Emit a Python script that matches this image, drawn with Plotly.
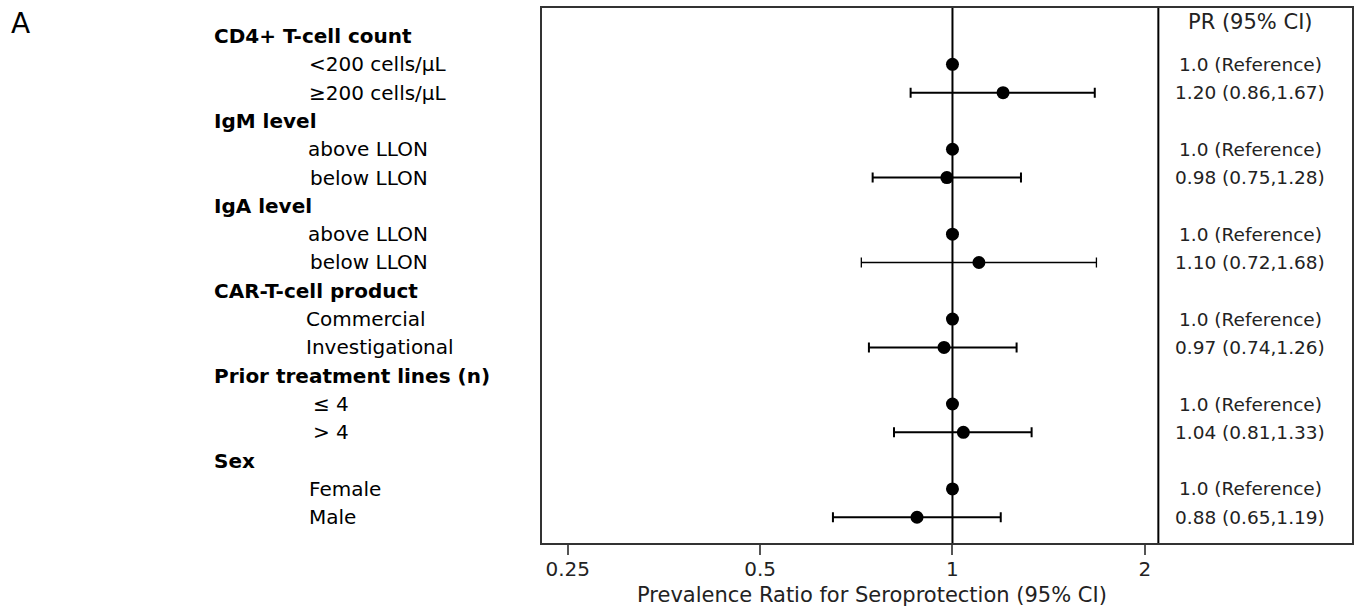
import math
import plotly.graph_objects as go

# ---- data ----
labels = ["CD4+ T-cell count", "<200 cells/μL", "≥200 cells/μL",
          "IgM level", "above LLON", "below LLON",
          "IgA level", "above LLON", "below LLON",
          "CAR-T-cell product", "Commercial", "Investigational",
          "Prior treatment lines (n)", "≤ 4", "> 4",
          "Sex", "Female", "Male"]
is_header = [True, False, False, True, False, False, True, False, False,
             True, False, False, True, False, False, True, False, False]
pr = [None, 1.0, 1.20, None, 1.0, 0.98, None, 1.0, 1.10,
      None, 1.0, 0.97, None, 1.0, 1.04, None, 1.0, 0.88]
ci_low = [None, None, 0.86, None, None, 0.75, None, None, 0.72,
          None, None, 0.74, None, None, 0.81, None, None, 0.65]
ci_high = [None, None, 1.67, None, None, 1.28, None, None, 1.68,
           None, None, 1.26, None, None, 1.33, None, None, 1.19]
pr_text = [None, "1.0 (Reference)", "1.20 (0.86,1.67)", None, "1.0 (Reference)", "0.98 (0.75,1.28)",
           None, "1.0 (Reference)", "1.10 (0.72,1.68)", None, "1.0 (Reference)", "0.97 (0.74,1.26)",
           None, "1.0 (Reference)", "1.04 (0.81,1.33)", None, "1.0 (Reference)", "0.88 (0.65,1.19)"]
tick_vals = [0.25, 0.5, 1, 2]
tick_text = ["0.25", "0.5", "1", "2"]
x_title = "Prevalence Ratio for Seroprotection (95% CI)"
col_title = "PR (95% CI)"
panel_label = "A"

FONT = "DejaVu Sans"
x_lo, x_hi = 0.2278, 4.22
divider = 2.10
y_top, y_bot = -0.99, 17.91

fig = go.Figure()

# reference line at 1
fig.add_trace(go.Scatter(x=[1, 1], y=[y_top, y_bot], mode="lines",
                         line=dict(color="black", width=2), hoverinfo="skip", showlegend=False))
# divider line
fig.add_trace(go.Scatter(x=[divider, divider], y=[y_top, y_bot], mode="lines",
                         line=dict(color="black", width=2), hoverinfo="skip", showlegend=False))

rows = list(range(len(labels)))
for i in rows:
    if pr[i] is None:
        continue
    err = None
    if ci_low[i] is not None:
        err = dict(type="data", symmetric=False,
                   array=[ci_high[i] - pr[i]], arrayminus=[pr[i] - ci_low[i]],
                   color="black", thickness=1.3 if i == 8 else 2, width=5)
    fig.add_trace(go.Scatter(x=[pr[i]], y=[i], mode="markers",
                             marker=dict(color="black", size=13),
                             error_x=err, showlegend=False))

indent = {1: 310, 2: 310, 4: 309, 5: 311, 7: 309, 8: 311, 10: 307, 11: 307,
          13: 314, 14: 314, 16: 310, 17: 310}
plot_l, plot_r = 542, 1353
plot_t, plot_b = 6, 543
pw = plot_r - plot_l
ph = plot_b - plot_t
PAD = 3
for i in rows:
    if is_header[i]:
        xpx = 215
        txt = "<b>%s</b>" % labels[i]
    else:
        xpx = indent[i]
        txt = labels[i]
    fig.add_annotation(x=(xpx - PAD - plot_l) / pw, xref="paper", y=i, yref="y",
                       text=txt, showarrow=False, xanchor="left", yanchor="middle",
                       font=dict(family=FONT, size=20, color="black"))

xc = (1251 - plot_l) / pw
fig.add_annotation(x=xc, xref="paper", y=-0.5, yref="y", text=col_title,
                   showarrow=False, xanchor="center", yanchor="middle",
                   font=dict(family=FONT, size=21, color="#222"))
for i in rows:
    if pr_text[i]:
        fig.add_annotation(x=xc, xref="paper", y=i, yref="y", text=pr_text[i],
                           showarrow=False, xanchor="center", yanchor="middle",
                           font=dict(family=FONT, size=18.5, color="#222"))

fig.add_annotation(x=(8 - plot_l) / pw, xref="paper", y=(plot_b - 22) / ph, yref="paper",
                   text=panel_label, showarrow=False, xanchor="left", yanchor="middle",
                   font=dict(family=FONT, size=28, color="black"))

fig.add_annotation(x=(872 - plot_l) / pw, xref="paper", y=(plot_b - 595) / ph, yref="paper",
                   text=x_title, showarrow=False, xanchor="center", yanchor="middle",
                   font=dict(family=FONT, size=21, color="#222"))

fig.update_layout(
    width=1360, height=607,
    margin=dict(l=plot_l, r=1360 - plot_r, t=plot_t, b=607 - plot_b),
    paper_bgcolor="white", plot_bgcolor="white",
    xaxis=dict(type="log", range=[math.log10(x_lo), math.log10(x_hi)],
               tickvals=tick_vals, ticktext=tick_text, ticks="outside",
               ticklen=10, tickwidth=1.5, tickcolor="#555", ticklabelstandoff=-3,
               showgrid=False, zeroline=False, showline=True, mirror=True,
               linecolor="#333", linewidth=2,
               tickfont=dict(family=FONT, size=20, color="#222")),
    yaxis=dict(range=[y_bot, y_top], showticklabels=False, showgrid=False,
               zeroline=False, showline=True, mirror=True, linecolor="#333",
               linewidth=2, ticks=""),
)

fig.write_html("out.html")
